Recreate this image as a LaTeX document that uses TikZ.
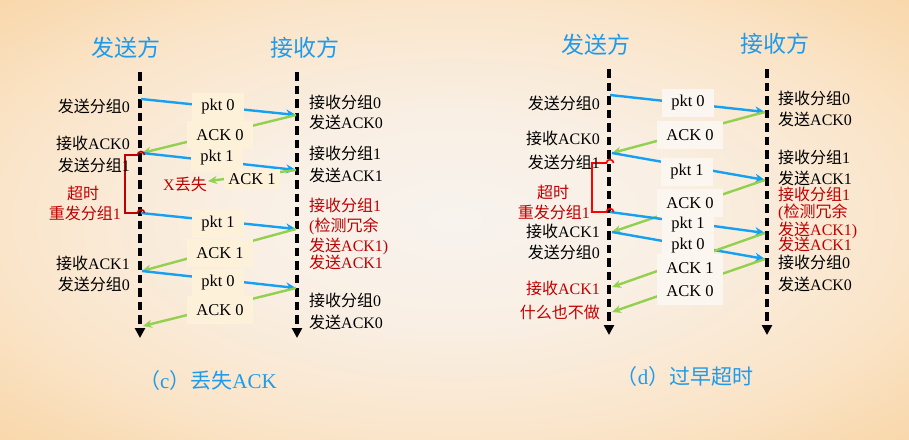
\documentclass[tikz,border=0pt]{standalone}
\usepackage{fontspec}
\setmainfont{Liberation Serif}
\newfontfamily\cjkfont{Noto Sans CJK SC}
\newcommand{\zh}[1]{{\cjkfont #1}}
\usepackage{xcolor}
\definecolor{bgcenter}{HTML}{F8F3EE}
\definecolor{bginner}{HTML}{F9EFE4}
\definecolor{bgmid}{HTML}{FAE5CA}
\definecolor{bgedge}{HTML}{F9D8AC}
\definecolor{titleblue}{HTML}{1E9BEB}
\definecolor{pktblue}{HTML}{16A0F2}
\definecolor{ackgreen}{HTML}{92D050}
\definecolor{darkred}{HTML}{C00000}
\definecolor{brightred}{HTML}{FF0000}
\definecolor{boxcream}{HTML}{FEF1DA}
\definecolor{boxwhite}{HTML}{FBF6EF}
\usetikzlibrary{arrows.meta}
\pgfdeclareradialshading{bgshade}{\pgfpoint{0bp}{0bp}}{color(0bp)=(bgcenter); color(12bp)=(bginner); color(25bp)=(bgmid); color(35bp)=(bgedge); color(50bp)=(bgedge)}
\tikzset{
  ttl/.style ={font=\cjkfont\fontsize{23}{26}\selectfont, text=titleblue, inner sep=0pt},
  capt/.style={font=\fontsize{21}{24}\selectfont, text=titleblue, inner sep=0pt},
  lifeline/.style={line width=3.5pt, dash pattern=on 8.5pt off 5pt, -{Triangle[length=10pt,width=10pt]}},
  pktarr/.style={draw=pktblue, line width=2.4pt, -{Stealth[length=10pt,width=9pt]}},
  ackarr/.style={draw=ackgreen, line width=2.4pt, -{Stealth[length=9pt,width=8pt]}},
  brk/.style ={line width=1.6pt, line join=miter},
  msgc/.style={fill=boxcream, font=\fontsize{16.5}{18}\selectfont, inner xsep=9pt, minimum height=28pt},
  msgd/.style={fill=boxwhite, font=\fontsize{16.5}{18}\selectfont, inner xsep=9pt, minimum height=28pt},
  slbl/.style={anchor=east, font=\fontsize{16}{18}\selectfont, inner sep=0pt},
  rlbl/.style={anchor=west, font=\fontsize{16}{18}\selectfont, inner sep=0pt},
  rednote/.style={text=darkred},
}
\begin{document}
\begin{tikzpicture}[x=1pt, y=-1pt]
  \shade[shading=bgshade] (0,0) rectangle (909,439);
  \useasboundingbox (0,0) rectangle (909,439);

  % (c) lost ACK
  \node[ttl] (cts) at (126,48) {发送方};
  \node[ttl] (ctr) at (305,48) {接收方};
  \coordinate (cSa) at (140,72); \coordinate (cSb) at (140,338);
  \coordinate (cRa) at (297,72); \coordinate (cRb) at (297,338);
  \draw[lifeline] (cSa) -- (cSb);
  \draw[lifeline] (cRa) -- (cRb);
  \coordinate (cs1) at (141,99);  \coordinate (cs2) at (142,153);
  \coordinate (cs3) at (141,213); \coordinate (cs4) at (142,271);
  \coordinate (cs5) at (143,326);
  \coordinate (cr1) at (296,115); \coordinate (cr2) at (296,170);
  \coordinate (cr3) at (296,229); \coordinate (cr4) at (296,288);
  \node[rlbl, anchor=center, rednote, inner sep=1pt] (clost) at (185,184) {X\zh{丢失}};
  \draw[pktarr] (cs1) -- (cr1);
  \draw[ackarr] (cr1) -- (cs2);
  \draw[pktarr] (cs2) -- (cr2);
  \draw[ackarr] (cr2) -- (clost);
  \draw[pktarr] (cs3) -- (cr3);
  \draw[ackarr] (cr3) -- (cs4);
  \draw[pktarr] (cs4) -- (cr4);
  \draw[ackarr] (cr4) -- (cs5);
  \coordinate (cto1) at (141,155); \coordinate (cto2) at (125,213);
  \draw[brk, darkred] (cto1) ++(3.5,0) arc[start angle=0, end angle=180, radius=3.5pt] -| (cto2) -- ++(12.5,0) arc[start angle=180, end angle=0, radius=3.5pt];
  \node[msgc] (cm1) at (218,107) {pkt 0};
  \node[msgc] (cm2) at (220,135) {ACK 0};
  \node[msgc] (cm3) at (217,158) {pkt 1};
  \node[msgc, minimum height=20pt, inner xsep=4pt] (cm4) at (252,179) {ACK 1};
  \node[msgc] (cm5) at (218,224) {pkt 1};
  \node[msgc] (cm6) at (220,253) {ACK 1};
  \node[msgc] (cm7) at (218,283) {pkt 0};
  \node[msgc] (cm8) at (220,310) {ACK 0};

  \node[slbl] (cl1) at (130,106) {\zh{发送分组}0};
  \node[slbl] (cl2) at (130,143) {\zh{接收}ACK0};
  \node[slbl] (cl3) at (130,165) {\zh{发送分组}1};
  \node[slbl, anchor=center, rednote] (cl4) at (83,193) {\zh{超时}};
  \node[slbl, rednote] (cl5) at (121,213) {\zh{重发分组}1};
  \node[slbl] (cl6) at (130,263) {\zh{接收}ACK1};
  \node[slbl] (cl7) at (130,284) {\zh{发送分组}0};

  \node[rlbl] (cq1) at (309,102) {\zh{接收分组}0};
  \node[rlbl] (cq2) at (309,122) {\zh{发送}ACK0};
  \node[rlbl] (cq3) at (309,153) {\zh{接收分组}1};
  \node[rlbl] (cq4) at (309,175) {\zh{发送}ACK1};
  \node[rlbl, rednote] (cq5) at (309,205) {\zh{接收分组}1};
  \node[rlbl, rednote] (cq6) at (309,226) {(\zh{检测冗余}};
  \node[rlbl, rednote] (cq7) at (309,246) {\zh{发送}ACK1)};
  \node[rlbl, rednote] (cq8) at (309,262) {\zh{发送}ACK1};
  \node[rlbl] (cq9) at (309,300) {\zh{接收分组}0};
  \node[rlbl] (cq10) at (309,322) {\zh{发送}ACK0};

  \node[capt] (ccap) at (208,381) {\zh{（}c\zh{）丢失}ACK};

  % (d) premature timeout
  \node[ttl] (dts) at (596,45) {发送方};
  \node[ttl] (dtr) at (775,44) {接收方};
  \coordinate (dSa) at (609,69); \coordinate (dSb) at (609,335);
  \coordinate (dRa) at (767,69); \coordinate (dRb) at (767,335);
  \draw[lifeline] (dSa) -- (dSb);
  \draw[lifeline] (dRa) -- (dRb);
  \coordinate (ds1) at (610,95);  \coordinate (ds2) at (612,153);
  \coordinate (ds3) at (610,212); \coordinate (ds4) at (612,232);
  \coordinate (ds5) at (612,287); \coordinate (ds6) at (612,312);
  \coordinate (dr1) at (765,112); \coordinate (dr2) at (765,180);
  \coordinate (dr3) at (765,233); \coordinate (dr4) at (765,259);
  \draw[pktarr] (ds1) -- (dr1);
  \draw[ackarr] (dr1) -- (ds2);
  \draw[pktarr] (ds2) -- (dr2);
  \draw[ackarr] (dr2) -- (ds4);
  \draw[pktarr] (ds3) -- (dr3);
  \draw[pktarr] (ds4) -- (dr4);
  \draw[ackarr] (dr3) -- (ds5);
  \draw[ackarr] (dr4) -- (ds6);
  \coordinate (dto1) at (610,163); \coordinate (dto2) at (592,212);
  \draw[brk, brightred] (dto1) ++(3.5,0) arc[start angle=0, end angle=180, radius=3.5pt] -| (dto2) -- ++(14.5,0) arc[start angle=180, end angle=0, radius=3.5pt];
  \node[msgd] (dm1) at (688,103) {pkt 0};
  \node[msgd] (dm2) at (690,135) {ACK 0};
  \node[msgd] (dm3) at (687,172) {pkt 1};
  \node[msgd] (dm4) at (690,203) {ACK 0};
  \node[msgd] (dm5) at (688,225) {pkt 1};
  \node[msgd] (dm6) at (688,246) {pkt 0};
  \node[msgd] (dm7) at (690,268) {ACK 1};
  \node[msgd] (dm8) at (690,291) {ACK 0};

  \node[slbl] (dl1) at (600,103) {\zh{发送分组}0};
  \node[slbl] (dl2) at (600,138) {\zh{接收}ACK0};
  \node[slbl] (dl3) at (600,162) {\zh{发送分组}1};
  \node[slbl, anchor=center, rednote] (dl4) at (553,192) {\zh{超时}};
  \node[slbl, rednote] (dl5) at (590,212) {\zh{重发分组}1};
  \node[slbl] (dl6) at (600,231) {\zh{接收}ACK1};
  \node[slbl] (dl7) at (600,252) {\zh{发送分组}0};
  \node[slbl, rednote] (dl8) at (600,288) {\zh{接收}ACK1};
  \node[slbl, rednote] (dl9) at (600,312) {\zh{什么也不做}};

  \node[rlbl] (dq1) at (778,98) {\zh{接收分组}0};
  \node[rlbl] (dq2) at (778,119) {\zh{发送}ACK0};
  \node[rlbl] (dq3) at (778,157) {\zh{接收分组}1};
  \node[rlbl] (dq4) at (778,178) {\zh{发送}ACK1};
  \node[rlbl, rednote] (dq5) at (778,194) {\zh{接收分组}1};
  \node[rlbl, rednote] (dq6) at (778,212) {(\zh{检测冗余}};
  \node[rlbl, rednote] (dq7) at (778,230) {\zh{发送}ACK1)};
  \node[rlbl, rednote] (dq8) at (778,244) {\zh{发送}ACK1};
  \node[rlbl] (dq9) at (778,262) {\zh{接收分组}0};
  \node[rlbl] (dq10) at (778,284) {\zh{发送}ACK0};

  \node[capt] (dcap) at (685,377) {\zh{（}d\zh{）过早超时}};
\end{tikzpicture}
\end{document}
